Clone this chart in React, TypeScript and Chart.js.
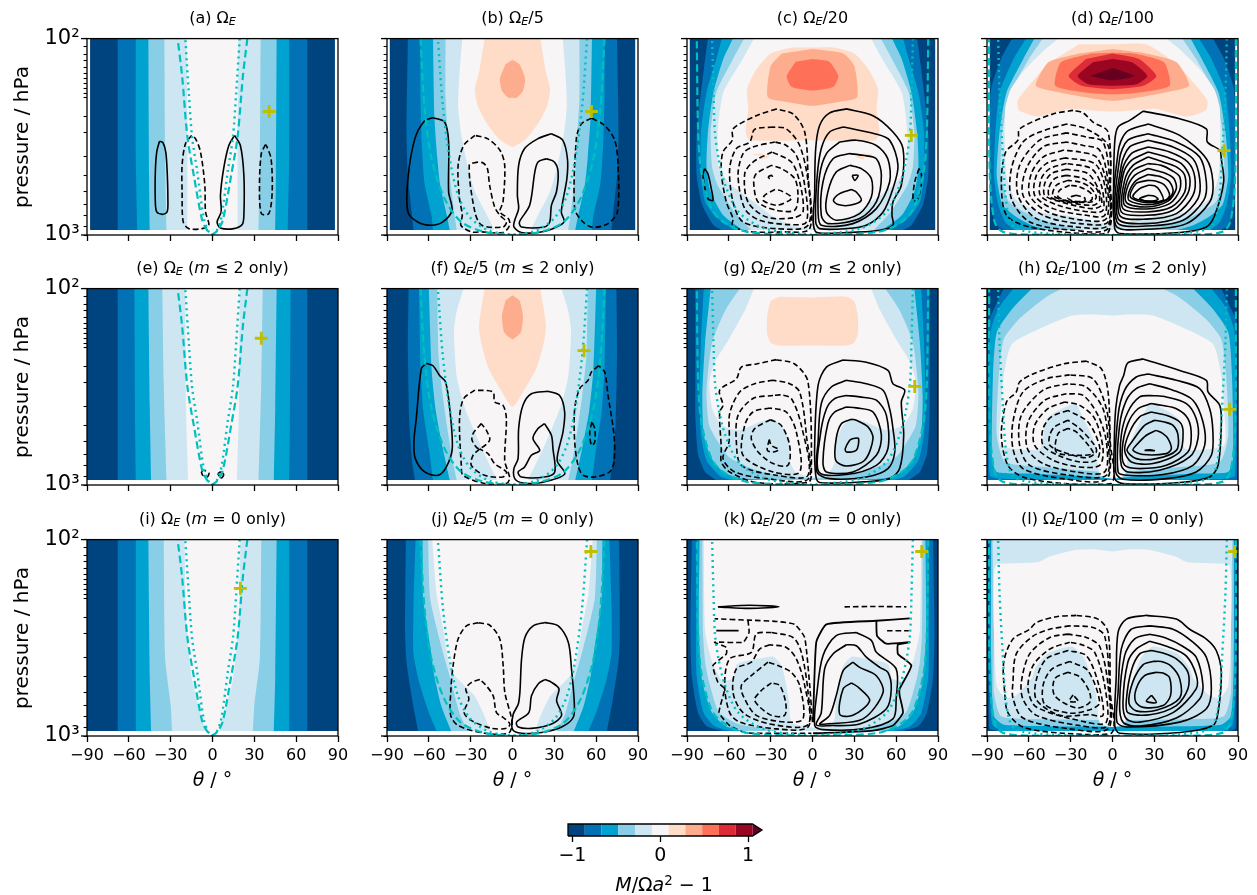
import React, { useEffect, useRef } from "react";
import { Chart, registerables } from "chart.js";
Chart.register(...registerables);

const bandColors = ["#00447f","#0072b5","#00a2d0","#88cee6","#cde6f1","#f7f5f6","#fedcc8","#fdac8d","#fe7058","#dd2c37","#9a0522","#67001f"];
const colorbarEdges = [-1.05,-0.859,-0.668,-0.477,-0.286,-0.095,0.095,0.286,0.477,0.668,0.859,1.05];
const colorbarTicks = [-1,0,1];
const thetaTicks = [-90,-60,-30,0,30,60,90];

// Critical latitude curves [theta, p] for theta >= 0, top to bottom
const om1Dash = [25,100,21.8,155,18,316,13.4,497,7.4,841,3.8,946,0,995];
const om1Dot = [19.5,100,17,188,14.6,320,11,470,6.2,825,2.6,964,0,995];
const om5Dash = [66,100,63,228,58,409,48.7,653,36.7,858,20,964,0,1000];
const om5Dot = [53.5,100,50,219,45,409,39,628,30.7,810,17.6,946,0,1000];
const om20Dash = [83,100,82,299,79.7,478,72.5,734,64,858,47,964,0,1000];
const om20Dot = [72,100,71,188,70,299,67.3,409,62.5,558,53,763,34,928,0,1000];
const om100Dash = [88.5,100,88,497,84.5,858,78.5,964,60,995,0,1000];
const om100Dot = [82,100,81,188,78.5,409,77,604,74,825,69,928,47,982,0,1000];

// Filled bands: half boundary (theta >= 0), mirrored about the equator
const aBands = [[68,100,68,944],[55,100,55,400,54,944],[46,100,45.5,500,45,944],[34.5,100,34,400,33,944],[18.5,100,18,400,18,944]];
const bBands = [[75,100,76,300,75,500,72,800,71,944],[66,100,66,200,65,350,63,550,58,800,57,944],[57,100,56,250,54,400,52,550,47,800,45,944],[48,100,48,200,46,350,45,500,42,750,40,944],[36,100,38,150,39,220,37,300,33,420,27,600,18,800,13,944],[20,100,24,149,27,181,25,219,19,266,10,323,0,356],[0,128,5,135,9,160,7.5,185,3,200,0,200]];
const cBands = [[75,100,77,127,80,188,83,300,83,500,79,706,71,892,65,944],[65,100,69,127,76,188,80,299,80,500,77,680,70,800,61,892,56,944],[57,100,64,127,71,188,75,299,76,450,73,604,64,794,50,944],[49,100,57,127,69,188,73,299,72,450,68,558,56,763,44,944],[42,100,50,127,64,188,68,299,67,459,58,558,42,680,30,790,15,892,0,925],[0,111,15,111,30,119,40,143,47,181,46,228,48,299,45,329,0,329],[0,113,22,119,30,138,32,199,17,211,0,220],[0,127,12,131,18.5,155,15,176,0,184]];
const cIsland = [37,395,43,390,37,385,31,400,37,412];
const dBands = [[72,100,80,127,87,180,88,300,88,500,87,700,84,880,78,944],[62,100,71,127,81,188,84,299,85,500,82,700,77,858,70,944],[56,100,64,127,76,188,81,299,83,500,79,700,70,800,58,892,46,944],[50,100,60,127,73,188,79,299,80,500,74,680,58,800,38,892,20,944],[38.6,100,48,113,62.5,143,73,181,77,228,77,409,75.7,516,70,653,53,763,34,794,12,858,0,892],[0,107,24,107,46,135,58,167,68,207,67,232,53,249,31,228,15,232,0,235],[0,113,24,119,46,132,55,174,38,188,0,207],[0,118,15,119,37,132,41,174,20,188,0,192],[0,119,19,127,31.5,155,22,174,0,181],[0,127,14,132,25,155,17,171,0,174],[0,141,16,155,0,163]];
const eBands = [[68,100,68,944],[56,100,55.5,500,55,944],[46,100,45,400,44,944],[36,100,35,300,33,944],[19.5,100,19,400,17.5,944]];
const fBands = [[74.5,100,75,207,74,478,72,750,70,944],[67,100,66,250,64,420,60,650,57,944],[60,100,58,260,55,420,50,650,45,944],[54,100,53,220,50,350,47,500,43,750,40,944],[35,100,40,130,42,165,40,280,35,390,29,500,20,700,11,944],[20,100,24,155,22,195,17,256,9,323,0,401],[0,108,5,115,7.5,138,6,167,0,181]];
const gBands = [[84,100,84,300,84,450,82,700,77,858,69,944],[78,100,80,188,81,350,80,550,76,750,66,905,58,944],[73,100,77,188,79,350,78,550,73,720,64,858,53,920,30,944],[52,100,62,127,72,188,76,336,74,500,66,630,60,720,48,800,30,880,0,925],[42,100,48,127,60,181,70,237,74,299,72,409,65,497,53,527,38,478,29,463,22,497,17,604,16,763,12,858,0,910],[0,111,24,110,30,116,32.5,138,32.5,170,30,188,24,195,0,195]];
const hBands = [[78,100,85,127,90,155,90,944],[71,100,82,127,87.5,167,88,892,80,930,40,944],[57.7,100,72,127,83,167,85.7,277,86.4,734,83,858,60,875,12,910,0,928],[36,100,48,111,67,143,78,181,81.5,277,83,558,77,763,48,810,8,858,0,858],[0,137,16,135,29,137,48,155,72,191,78,277,80,409,80,628,52,653,47,459,27,385,22,442,12,628,9,892,0,928]];
const iBands = [[68,100,68,944],[55,100,55,944],[46,100,45,500,44,944],[35,100,34,400,30,700,29,944],[20,100,19,250,15,500,9,750,5,944]];
const jBands = [[76.5,100,77,300,76,420,72,650,67.7,944],[69.5,100,71,220,71,380,67,530,60,760,54.5,944],[64.5,100,64,200,59,350,56,497,51,706,44,944],[60.5,100,59,200,51,350,45,497,38,763,32,944],[57.6,100,54.5,188,50,277,46,409,41,497,34,558,27,628,21,763,16,944]];
const kBands = [[86.5,100,87.5,300,86.5,500,82,763,76,890,65,944],[83,100,83.5,300,83,500,78,763,70,892,58,944],[81,100,81.5,300,79,530,72,763,62,892,50,944],[79,100,78.5,300,77,420,74,537,67,760,53,870,24,944],[78,100,77,290,72,420,65,520,57,510,54,430,35,400,28,395,22,440,17,650,15,850,0,905]];
const lBands = [[88.5,100,88.5,800,88,920,82,944],[87.5,100,87.5,700,86,880,80,944],[87,100,87,400,85,790,77,880,0,895],[86,100,85,290,85,600,80,790,60,820,0,830],[0,115,13,112,27,113,45,122,53,130,70,132,84,136,85,290,83,558,77,640,69,620,58,510,55,445,46,378,29,350,20,405,12,600,9,860,0,900]];

// Streamfunction contours [theta, p, ...]
const aSolid = [[-38,333,-40,378,-41,478,-41,678,-40,762,-36,785,-32.5,762,-32,653,-32.5,478,-33.5,378,-35.5,339],[15.8,311,11.7,350,8,459,5.7,628,6.2,763,3.3,858,5.7,921,15.3,928,21.3,885,22.5,794,22.5,497,20,350]];
const aDashed = [[-15,311,-19.4,343,-21.8,442,-21.8,604,-21,858,-17,928,-7.4,928,-2.6,892,-5,763,-5.5,558,-8.6,378,-12.2,323],[38,346,35,385,33.7,558,35,778,40.4,778,42.8,604,42,409,39,355]];
const bSolid = [[-57,253,-63,262,-70,323,-75,516,-75,763,-68,858,-58,892,-50,858,-43.4,748,-45.8,604,-45.8,336,-48.7,266],[27.9,305,18.3,323,8.7,363,4.4,442,3.5,628,4.4,734,1.6,841,1,910,6.3,971,18.3,971,27.9,935,37,858,35,763,39,516,39.4,409,36,329],[24.3,409,18.3,425,16,478,12.3,706,5,858,6.3,910,23,910,26.7,858,27.9,706,31.5,604,32.7,478,30,425]];
const bDashed = [[-27,311,-35,350,-39,442,-38,653,-36,794,-37,892,-29.5,964,-22,964,-6.8,971,-2,892,-3,825,-9,763,-6.8,679,-5.6,442,-9,370,-18,323],[-25,425,-31,442,-27,763,-22,892,-6.8,910,-4.4,858,-9,794,-12.8,720,-16.4,558,-18,459,-21,430],[56.6,254,49.4,272,45.8,323,44.6,734,50.6,858,57.8,914,68.5,875,75.2,763,75.7,442,73.3,329,66.1,277]];
const cSolid = [[24.3,228,12.3,239,5.1,277,2.3,363,1.6,604,2.3,964,24.3,971,48.2,946,57.7,892,57,794,57.7,679,63.7,558,64.9,363,57.7,299,43.4,247],[22,282,12.3,299,6.3,363,3.2,516,2.3,858,5.1,928,24.3,928,38.6,892,50.6,763,57.7,580,61.3,442,55.3,329,44.6,305],[19.5,336,10,385,5.1,497,4,763,6.3,892,29,875,45.8,734,55.3,537,54,409,45.8,350,31.4,329],[26.7,385,14.7,409,7.5,537,6.3,794,11,875,33.8,825,45.8,679,49.4,497,45.8,409,36.2,393],[26.7,442,17,478,11,604,10,763,17,841,33.8,778,42.2,640,42.2,516,35,459],[28.4,497,32.7,497,30.3,527],[27.9,587,19.5,616,15,666,18.3,700,26.7,706,35,666,31.4,604],[-77.4,459,-78.6,497,-75,653,-71.4,666,-72.6,580,-75,487]];
const cDashed = [[-26,228,-40.3,247,-57,288,-57.5,329,-64.2,378,-65.4,478,-61.8,679,-57,825,-57.5,892,-47.5,957,-21,964,-2,928,-3.2,497,-5.6,299,-14,242],[-28.3,282,-41.5,290,-45,336,-54.6,363,-59.4,459,-57,679,-49.8,858,-26,928,-3.2,892,-3.2,537,-9.2,350,-18.8,288],[-27,336,-42.7,356,-49.8,385,-53.4,497,-48.6,734,-37.9,841,-16.4,885,-4.4,858,-5.6,558,-11.6,393,-18.8,350],[-29,378,-42.7,425,-48.6,487,-46.3,679,-33,810,-14,818,-6.8,763,-9.2,537,-15.2,425],[-29.5,442,-40.3,487,-42.2,537,-39,679,-26,748,-12.8,748,-10.4,628,-12.8,516,-22.4,459],[-31.9,506,-29.5,497,-28.8,506,-30.7,516],[-27,587,-34.3,628,-35.5,666,-26,706,-16.4,666,-15.2,640,-22.4,596],[76.4,459,73.3,537,72.1,666,75,666,78,558,78,487]];
const dSolid = [[22,234,12.3,261,4,282,1.6,336,0.8,604,1.6,928,5.1,982,48.2,971,67.3,910,73.3,794,79.7,537,78,409,76.9,370,68,336,67.3,288,48.2,256],[25.5,272,10,299,4,378,2.3,892,24.3,935,53,875,69.7,679,72,537,67.3,409,48.2,311],[25.5,305,11,329,5.1,409,3.2,858,24.3,900,50.6,841,65.4,666,67.3,537,62.5,401,45.8,336],[25.5,329,12.3,356,6.3,442,4,825,24.3,875,48.2,810,61.3,653,62.5,516,57.7,409,43.4,356],[25.5,356,13.5,385,7,468,5.1,794,24.3,830,45.8,778,57.7,628,59,506,54,425,41,378],[25.5,378,13.5,417,7.5,497,6.3,763,24.3,794,43.4,748,54,616,55.3,506,49.4,433,38.6,401],[25.5,401,14.7,442,8.7,527,7.5,734,24.3,763,42.2,720,51.8,604,51.8,497,45.8,450,36.2,425],[25.5,433,15,468,9.5,558,8.7,706,24.3,737,41,692,48.2,592,48.2,506,42.2,468,35,442],[25.5,459,15.9,497,10.4,580,10,684,24.3,720,39.8,672,45.8,580,44,516,38.6,487],[25.5,492,17,527,11.8,604,11.8,666,24.3,702,38.6,666,43.4,604,41,537,35,506],[25.5,527,17,547,12.8,640,24.3,684,37.4,666,41,628,37.4,558,31.4,532],[25.5,558,19.5,580,14.7,640,24.3,672,36.2,666,33.8,592,30.2,562],[25.5,628,19.5,653,24.3,672,32.6,660,30.2,635]];
const dDashed = [[-28.3,232,-42.7,242,-66.6,288,-67.8,329,-76.6,378,-79.7,537,-76,794,-59.4,910,-23.5,982,-3.2,971,-1.6,604,-3.2,299,-14,266,-21,239],[-33,272,-52.2,299,-64.2,336,-72.5,459,-72.5,653,-59.4,858,-28.3,946,-3.2,928,-1.6,558,-3.2,350,-18.8,288],[-33,302,-52.2,329,-66.6,442,-67.8,628,-54.6,825,-26,910,-3.2,892,-2,537,-6.8,336,-18.8,317],[-33,336,-49.8,356,-61.8,459,-64.2,628,-49.8,794,-23.5,875,-3.2,858,-3.2,537,-9.2,370,-21,350],[-35.5,370,-49.8,401,-58.2,487,-59.4,628,-46.3,763,-21,841,-4.4,825,-4.4,537,-11.6,401,-23.5,378],[-34.3,405,-47.5,433,-54.6,497,-55.8,628,-42.7,734,-18.8,794,-5.6,794,-5.6,558,-12.8,433],[-33,433,-45,459,-51,516,-51.8,628,-39,706,-16.4,763,-6.8,748,-8,558,-15.2,459],[-33,463,-43.9,487,-48.6,547,-48.6,628,-36.7,679,-15.2,734,-8,706,-9.2,604,-17.6,487],[-33,497,-41.5,516,-45.8,580,-45,640,-33,679,-14,706,-9.2,666,-11.6,580,-21,516],[-32,527,-40.3,558,-42.7,628,-32,672,-15.2,679,-11.6,640,-16.4,569,-23.5,537],[-30.7,558,-37.9,592,-39,640,-28.3,679,-15.2,666,-15.2,616,-23.5,569],[-26,628,-32,648,-28.3,672,-20,672,-20,648]];
const eSolid = [[3.8,878,5.7,858,8,885,6.2,921]];
const eDashed = [[-8,858,-6.5,841,-2.6,868,-3.8,910,-7,892]];
const fSolid = [[-61.8,240,-65.4,256,-69,459,-70.7,604,-69.7,734,-63,858,-53.5,892,-47.5,810,-43.2,653,-45,409,-48,299,-52.3,277,-57,247],[25.5,333,13.5,343,7.5,393,4.4,516,4,734,1,825,1.6,928,7.5,978,20.7,971,37.4,880,32,748,36.2,537,37.4,425,33.8,350],[23,487,18.3,516,14.7,580,19.5,666,13.5,706,8.7,810,4,858,6.3,910,23,910,30.3,858,29,653,27.9,558]];
const fDashed = [[-27,329,-35,363,-38,459,-36.7,794,-35.5,892,-20,982,-4.4,982,-2,928,-3.2,858,-5.6,748,-4.4,459,-6.8,393,-12.8,378,-14,336],[-22.4,487,-28.3,547,-29,592,-24.3,653,-16.4,592,-18.7,527],[-23.5,656,-28.3,706,-29.5,794,-20,892,-6.8,910,-4.4,858,-12.8,778,-17.6,692],[61.8,247,56.6,266,54.2,293,48.2,323,44.6,409,44.6,604,47,794,50.6,892,59,910,69.7,858,72.8,763,72.8,558,68.5,350,66.1,266],[57,478,55.4,537,56.6,628,59,604,59,516]];
const gSolid = [[22,231,10,251,4,311,1.6,604,2.3,892,5.1,971,36.2,964,55.3,928,62.5,825,65.4,558,63.7,378,66.1,329,57.7,305,54.1,261,38.6,237],[24.3,293,13.5,317,6.3,385,4,604,3.2,858,12.3,928,38.6,910,54.1,825,59,679,57.7,516,55.3,409,50.6,329,38.6,305],[24.3,350,15.9,363,10,409,5.6,558,4.6,858,24.3,885,45.8,794,54.1,653,53,442,45.8,370,33.8,356],[24.3,401,15.9,425,11,487,7.5,763,10,858,29,858,45.8,706,49.4,558,43.4,425,31.4,405],[27.9,463,20.7,487,17,580,16.6,748,24.3,800,37.4,748,43.4,580,39.8,506,31.4,468],[29,580,26.7,592,23.5,653,24.3,679,31.4,666,33,580]];
const gDashed = [[-26,230,-40.3,242,-51,251,-54.6,288,-66.6,329,-64.2,393,-66.6,425,-65.4,653,-65.4,763,-59.4,858,-40.3,971,-3.2,971,-0.8,892,-3.2,299,-12.8,242],[-28.3,293,-41.5,305,-52.2,336,-59.4,433,-59.9,604,-64.2,734,-55.8,858,-33,928,-3.2,935,-4.4,558,-9.2,336,-16.4,305],[-28.3,350,-42.7,363,-53.4,442,-54.6,604,-51,794,-26,892,-3.2,892,-8,497,-15.2,363,-22.4,348],[-30.7,405,-42.7,425,-48.6,497,-49.8,706,-28.3,858,-9.2,858,-11.6,537,-18.8,425],[-30.2,465,-41.5,516,-43.9,580,-39,679,-28.3,778,-17.6,794,-16.4,628,-22.4,497],[-31,587,-32.4,666,-28.3,679,-24.1,660,-29.5,628]];
const hSolid = [[22,228,11,239,8,277,5.1,311,2.3,409,1.3,604,1.6,928,7.5,982,48.2,971,69.7,910,75.7,794,78,497,76.9,393,68.5,336,67.3,293,48.2,261],[25.5,272,17,282,8.7,329,4,442,2.3,858,7.5,935,38.6,928,60,858,70.9,706,72,537,69.7,409,62.5,323,45.8,293],[26.7,305,17,323,10,370,5.1,497,4,858,10,892,36.2,885,57.7,794,66.1,628,64.9,478,57.7,370,43.4,329],[27.9,350,19.5,356,11,425,6.3,558,6.3,794,11,858,33.8,841,55.3,720,61.3,580,60,459,53,385,38.6,356],[27.9,385,18.3,409,11,487,7,653,8.7,794,19.5,825,38.6,794,54.1,679,56.5,558,54.1,459,45.8,409,35,393],[27.9,425,19.5,450,12.3,537,8.7,666,13.5,763,29,778,48.2,679,50.6,537,48.2,478,38.6,442],[30.2,468,23,497,14.7,592,10.4,666,17,734,31.4,734,45.8,666,47,558,43.4,497,37.4,478],[31.4,527,24.3,558,17,628,14.7,666,22,700,38.6,692,42.2,653,39.8,580,36.2,547],[23,666,30,668,27,662]];
const hDashed = [[-18.8,234,-35.5,242,-57,272,-66.6,299,-69,336,-76,378,-79.7,558,-75,794,-64.2,910,-35.5,982,-0.8,982,-1.6,604,-3.2,336,-8,256],[-30.7,275,-47.5,288,-64.2,336,-71.4,478,-71.4,653,-64.2,825,-35.5,928,-4.4,935,-2,604,-4.4,409,-14,288],[-32,305,-49.8,329,-65.4,442,-66.6,628,-59.4,794,-30.7,892,-4.4,892,-3.2,604,-6.8,409,-18.8,317],[-33,343,-48.6,370,-60.6,478,-61,653,-49.8,778,-26,858,-5.6,858,-4.4,604,-10.4,442,-21,350],[-34.3,378,-46.3,409,-55.8,497,-55.8,628,-42.7,748,-23.5,810,-9.2,794,-6.8,653,-12.8,459,-23.5,393],[-32,417,-43.9,450,-49.8,516,-49.8,628,-39,706,-23.5,763,-11.6,748,-9.2,640,-17.6,478],[-32,468,-41.5,506,-45,558,-45,628,-35.5,679,-18.8,727,-11.6,679,-12.8,628,-23.5,516],[-32,516,-39,547,-40.3,679,-26,706,-14,692,-16.4,640,-26,537]];
const jSolid = [[23.2,264,14.8,275,8.9,315,6.5,405,5.3,600,4.1,690,0.5,775,0,925,6.5,968,20.8,960,35.2,900,43.5,805,44.3,675,42.3,455,40,333,32.8,275],[23.2,516,18.4,543,13.6,623,11.7,760,2.9,850,4.1,900,13.6,914,28,868,35.2,785,31.6,660,33.3,575,28,533]];
const jDashed = [[-24.6,265,-33,275,-39,321,-42.6,438,-44.3,600,-44.3,785,-39,885,-19.9,968,-3.1,968,-0.3,885,-1.2,785,-5.5,600,-6.7,438,-9.1,321,-16.3,273],[-23.4,516,-29.4,533,-33.5,575,-31.3,648,-34.7,760,-29.4,835,-15,914,-4.3,914,-1.9,868,-6.7,805,-11.5,760,-13.9,623,-19.9,543]];
const kSolid = [[31.4,297,17,308,7.5,390,3.2,600,1.6,885,7.5,928,36.2,920,57.7,818,60,648,60,455,45.8,375,42.2,326],[24.3,343,14.7,382,8.7,455,6.3,760,2.7,878,12.3,885,33.8,868,53,727,56.5,575,54.1,474,48.2,447,38.6,397,31.4,347],[29,421,22,465,17,623,12.3,785,5.1,868,10,868,36.2,818,50.6,600,45.8,493,33.8,447],[27.9,537,22,575,19.5,775,29,785,41,660,32.6,563],[-67.8,220,-45,216,-24,220,-45,224]];
const kSolidOpen = [[0.4,850,2.7,333,10,270,45.8,259,69.7,252],[45.8,259,46.3,309,53,339,69.7,333,61.3,343,61.3,382,70.9,438,62.5,575,62.5,623,64.9,760,57.7,885,43.4,938,5.1,968,0.4,968],[-69,291,-53,291]];
const kDashed = [[-29.5,297,-40.3,302,-43.9,375,-59.4,405,-63,553,-59.4,760,-52.2,850,-26,920,-3.2,900,-3.2,600,-8,375,-14,315],[-30.7,343,-37.9,361,-43.9,421,-54.6,455,-57,600,-49.8,760,-30.7,868,-3.2,875,-5.6,553,-11.6,405,-18.8,354],[-32,421,-43.9,493,-51,553,-49.8,623,-40.3,785,-18.8,850,-6.8,818,-9.2,553,-15.2,474,-24.7,438],[-29.5,537,-36.7,587,-41.5,660,-29.5,785,-20,785,-19.2,679,-23.5,553]];
const kDashedOpen = [[0,850,-2,553,-5.6,315,-12.8,270,-26,261,-46.3,257,-70.2,253],[-46.3,257,-45.5,297,-49.8,333,-70.2,333,-61.8,354,-61.8,382,-71.4,438,-67.8,533,-63,575,-67,760,-59.4,885,-47.5,964,-0.8,968],[53.5,291,69,291],[23,220,45,219,67.3,220]];
const lSolid = [[24.3,243,10,254,4,296,2.7,493,1.6,885,5.1,968,48.2,960,72,885,75.7,760,78,474,74.4,367,67.3,321,55.3,286,45.8,254],[26.7,275,13.5,286,6.3,361,4,600,3.2,850,10,900,48.2,850,67.3,727,70.9,575,67.3,397,57.7,333,43.4,286],[26.7,303,15.9,320,8.7,390,5.1,675,7.5,850,19.5,890,45.8,810,62.5,648,64.9,553,60,397,50.6,350,38.6,318],[26.7,329,17,361,11,421,7.5,675,10,818,19.5,850,43.4,760,60,575,60,488,53,392,41,354],[27.9,367,19.5,382,13.5,465,10,650,11,760,26.7,780,45.8,700,54.1,575,54.1,474,45.8,405,36.2,378],[29,417,22,433,14.7,527,11.8,680,17,745,31.4,740,48.2,640,48.2,512,42.2,442,35,418],[31.4,474,23,493,17,575,16.6,670,22,715,36.2,700,41.6,623,41,506,36.2,478],[28,620,24.3,665,31.4,675]];
const lDashed = [[-26,243,-40.3,247,-54.6,264,-59.4,286,-71.4,321,-78,421,-77.3,600,-75,760,-64.2,900,-35.5,968,-0.8,968,-1.6,600,-3.2,296,-10.4,254],[-30.7,275,-45,286,-57,310,-69,382,-71.4,533,-71.4,640,-64.2,810,-30.7,920,-3.2,920,-2,600,-5.6,310,-14,280],[-32,303,-45,315,-59.4,382,-65.4,533,-64.2,650,-54.6,785,-23.5,885,-3.2,885,-3.2,553,-9.2,350,-18.8,315],[-30.7,333,-45,361,-57,438,-60.6,575,-54.6,712,-18.8,850,-4.4,850,-5.6,553,-12.8,375,-21,345],[-32,367,-47.5,405,-54.6,516,-54.6,653,-37.9,785,-16.4,778,-6.8,785,-10.4,533,-18.8,390],[-30.7,417,-43.9,459,-49.8,553,-48.6,690,-30.7,765,-15.2,730,-9.2,675,-17.6,465],[-32,474,-41.5,512,-41.5,623,-26,720,-16.4,675,-16.4,600,-23.5,500],[-28.3,618,-31,665,-24.7,665]];

const plusThetas = [40.6,56.6,70.9,80,35,51.3,73.3,84,20,56.2,78.3,87.6];
const plusPressures = [235,235,311,372,179,207,315,412,177,115,115,115];
const fieldEdges = [87.8,88,88,88,90,90,90,90,90,90,90,90];
const titleBases = ["","/5","/20","/100"];
const panelLetters = "abcdefghijkl".split("");
const rowSuffix = ["",  " (m ≤ 2 only)", " (m = 0 only)"];
const colLefts = [87,387,687,987];
const rowTops = [38,288,539];
const AX_W = 251, AX_H = 197, PAD_L = 62, PAD_T = 8, CANVAS_T = 16, PAD_R = 20, PAD_B = 35;

const bandsByPanel = [aBands,bBands,cBands,dBands,eBands,fBands,gBands,hBands,iBands,jBands,kBands,lBands];
const solidByPanel = [aSolid,bSolid,cSolid,dSolid,eSolid,fSolid,gSolid,hSolid,[],jSolid,kSolid,lSolid];
const dashedByPanel = [aDashed,bDashed,cDashed,dDashed,eDashed,fDashed,gDashed,hDashed,[],jDashed,kDashed,lDashed];
const curvesByCol = [[om1Dash,om1Dot],[om5Dash,om5Dot],[om20Dash,om20Dot],[om100Dash,om100Dot]];

const toPts = (a: number[]) => { const o: any[] = []; for (let i = 0; i < a.length; i += 2) o.push({ x: a[i], y: a[i + 1] }); return o; };
const ring = (a: number[]) => { const p = toPts(a); p.push({ ...p[0] }); return p; };
const mirror = (a: number[]) => { const p = toPts(a); return [...p, ...p.slice().reverse().map((q) => ({ x: -q.x, y: q.y }))]; };
// A closed band outline: corners on the field edge stay sharp, tips on the equator stay smooth.
const mirrorBand = (a: number[]) => {
  const p = toPts(a);
  const first = p[0], last = p[p.length - 1];
  const right = [...(first.x !== 0 ? [first] : []), ...p, ...(last.x !== 0 ? [last] : [])];
  const left = right.slice().reverse().map((q) => ({ x: -q.x, y: q.y }));
  if (last.x === 0) left.shift();
  if (first.x === 0) left.pop();
  return [...right, ...left];
};

const BLACK = "#000000", CY = "#00bfbf", YEL = "#bfbf00";
const fillSet = (data: any[], color: string, tension = 0.2) => ({ data, showLine: true, fill: "shape", backgroundColor: color, borderWidth: 0, pointRadius: 0, tension });
const lineSet = (data: any[], color: string, width: number, dash: number[], tension = 0.3) => ({ data, showLine: true, fill: false, borderColor: color, borderWidth: width, borderDash: dash, pointRadius: 0, tension });

const frame = {
  id: "frame",
  afterDraw(chart: any) {
    const { ctx, chartArea: a, scales } = chart;
    ctx.save(); ctx.strokeStyle = BLACK; ctx.lineWidth = 1.3;
    ctx.strokeRect(a.left, a.top, a.right - a.left, a.bottom - a.top);
    for (const v of [100, 1000]) {
      const y = scales.y.getPixelForValue(v);
      ctx.beginPath(); ctx.moveTo(a.left - 6, y); ctx.lineTo(a.left, y); ctx.stroke();
    }
    ctx.restore();
  },
};

function makePanel(cv: HTMLCanvasElement, i: number) {
  const row = Math.floor(i / 4), col = i % 4, edge = fieldEdges[i];
  const sets: any[] = [];
  sets.push(fillSet(ring([-edge,100,edge,100,edge,944,-edge,944]), bandColors[0], 0));
  bandsByPanel[i].forEach((b, k) => {
    const s = mirrorBand(b).map((q) => ({ x: Math.max(-edge, Math.min(edge, q.x)), y: q.y }));
    sets.push(fillSet(s, bandColors[k + 1]));
  });
  if (i === 2) {
    sets.push(fillSet(ring(cIsland), bandColors[6]));
    sets.push(fillSet(ring(cIsland.map((v, j) => (j % 2 ? v : -v))), bandColors[6]));
  }
  solidByPanel[i].forEach((c) => sets.push(lineSet(ring(c), BLACK, 1.6, [])));
  dashedByPanel[i].forEach((c) => sets.push(lineSet(ring(c), BLACK, 1.6, [5.5, 3])));
  if (i === 10) {
    kSolidOpen.forEach((c) => sets.push(lineSet(toPts(c), BLACK, 1.8, [], 0.15)));
    kDashedOpen.forEach((c) => sets.push(lineSet(toPts(c), BLACK, 1.6, [5.5, 3], 0.15)));
  }
  const [dash, dot] = curvesByCol[col];
  sets.push(lineSet(mirror(dash), CY, 2.2, [7.5, 4]));
  sets.push(lineSet(mirror(dot), CY, 2.4, [2, 4]));
  sets.push({ data: [{ x: plusThetas[i], y: plusPressures[i] }], showLine: false, pointStyle: "cross", pointRadius: 6.5, pointBorderColor: YEL, pointBackgroundColor: YEL, pointBorderWidth: 2.8, borderWidth: 2.8 });
  sets.forEach((s, k) => { s.order = sets.length - k; });
  return new Chart(cv, {
    type: "scatter",
    data: { datasets: sets },
    plugins: [frame],
    options: {
      responsive: false, animation: false, devicePixelRatio: 1,
      layout: { autoPadding: false, padding: { top: PAD_T, right: PAD_R, left: 0, bottom: 0 } },
      plugins: { legend: { display: false }, tooltip: { enabled: false } },
      events: [],
      scales: {
        x: {
          type: "linear", min: -90, max: 90,
          afterBuildTicks: (s: any) => { s.ticks = thetaTicks.map((value) => ({ value })); },
          afterFit: (s: any) => { s.height = PAD_B; },
          border: { display: false },
          grid: { drawOnChartArea: false, tickLength: 6, tickWidth: 1.3, tickColor: BLACK },
          ticks: { autoSkip: false, maxRotation: 0, padding: 4, color: BLACK, font: { family: "DejaVu Sans", size: 16 },
            callback: (v: any) => (row === 2 ? (v < 0 ? "−" + Math.abs(v) : String(v)) : "") },
        },
        y: {
          type: "logarithmic", min: 100, max: 1000, reverse: true,
          afterFit: (s: any) => { s.width = PAD_L; },
          border: { display: false },
          grid: { drawOnChartArea: false, tickLength: 3.4, tickWidth: 1.1, tickColor: BLACK },
          ticks: { autoSkip: false, padding: 4, color: BLACK, font: { family: "DejaVu Sans", size: 21 },
            callback: (v: any) => (col !== 0 ? "" : v === 100 ? "10²" : v === 1000 ? "10³" : "") },
        },
      },
    } as any,
  });
}

function makeBar(cv: HTMLCanvasElement) {
  const sets: any[] = [];
  for (let k = 0; k < 11; k++) {
    const a = colorbarEdges[k], b = colorbarEdges[k + 1];
    sets.push(fillSet(ring([a,0,b,0,b,1,a,1]), bandColors[k], 0));
  }
  sets.push(fillSet(ring([1.05,0,1.158,0.5,1.05,1]), bandColors[11], 0));
  sets.push({ ...lineSet(ring([-1.05,0,1.05,0,1.158,0.5,1.05,1,-1.05,1]), BLACK, 1.3, [], 0), clip: false });
  sets.forEach((s, k) => { s.order = sets.length - k; });
  return new Chart(cv, {
    type: "scatter",
    data: { datasets: sets },
    options: {
      responsive: false, animation: false, devicePixelRatio: 1, events: [],
      layout: { autoPadding: false, padding: { top: 8, left: 28, right: 28, bottom: 0 } },
      plugins: { legend: { display: false }, tooltip: { enabled: false } },
      scales: {
        x: { type: "linear", min: -1.05, max: 1.158,
          afterBuildTicks: (s: any) => { s.ticks = colorbarTicks.map((value) => ({ value })); },
          afterFit: (s: any) => { s.height = 40; },
          border: { display: false },
          grid: { drawOnChartArea: false, tickLength: 6, tickWidth: 1.3, tickColor: BLACK },
          ticks: { autoSkip: false, maxRotation: 0, padding: 3, color: BLACK, font: { family: "DejaVu Sans", size: 19 },
            callback: (v: any) => (v < 0 ? "−" + Math.abs(v) : String(v)) } },
        y: { type: "linear", min: 0, max: 1, display: false },
      },
    } as any,
  });
}

const textBase: React.CSSProperties = { position: "absolute", fontFamily: "'DejaVu Sans'", color: "#000", whiteSpace: "nowrap", lineHeight: 1 };
const subStyle: React.CSSProperties = { fontSize: "70%", verticalAlign: "-0.22em", lineHeight: 0, fontStyle: "italic" };

function Title({ i }: { i: number }) {
  const row = Math.floor(i / 4), col = i % 4;
  const cx = colLefts[col] + AX_W / 2, cy = rowTops[row] - 20;
  const suf = rowSuffix[row];
  return (
    <div style={{ ...textBase, left: cx, top: cy, transform: "translate(-50%,-50%)", fontSize: 16 }}>
      ({panelLetters[i]}) Ω<sub style={subStyle}>E</sub>{titleBases[col]}
      {suf && <> (<i>m</i>{suf.slice(3)}</>}
    </div>
  );
}

export default function App() {
  const holder = useRef<HTMLDivElement>(null);
  useEffect(() => {
    const charts: Chart[] = [];
    holder.current!.querySelectorAll("canvas[data-p]").forEach((c) => {
      charts.push(makePanel(c as HTMLCanvasElement, Number((c as HTMLElement).dataset.p)));
    });
    charts.push(makeBar(holder.current!.querySelector("canvas[data-bar]") as HTMLCanvasElement));
    return () => charts.forEach((c) => c.destroy());
  }, []);
  return (
    <div ref={holder} style={{ position: "absolute", left: 0, top: 0, width: 1257, height: 895, overflow: "hidden", background: "#fff" }}>
      {panelLetters.map((_, i) => {
        const row = Math.floor(i / 4), col = i % 4;
        return (
          <canvas key={i} data-p={i} width={PAD_L + AX_W + PAD_R} height={CANVAS_T + AX_H + PAD_B}
            style={{ position: "absolute", left: colLefts[col] - PAD_L, top: rowTops[row] - CANVAS_T, width: PAD_L + AX_W + PAD_R, height: CANVAS_T + AX_H + PAD_B }} />
        );
      })}
      <canvas data-bar="1" width={250} height={60} style={{ position: "absolute", left: 540, top: 816, width: 250, height: 60 }} />
      {panelLetters.map((_, i) => <Title key={i} i={i} />)}
      {rowTops.map((t) => (
        <div key={t} style={{ ...textBase, left: 21, top: t + AX_H / 2, fontSize: 20, transform: "translate(-50%,-50%) rotate(-90deg)" }}>pressure / hPa</div>
      ))}
      {colLefts.map((l) => (
        <div key={l} style={{ ...textBase, left: l + AX_W / 2, top: 779, fontSize: 19, transform: "translate(-50%,-50%)" }}><i>θ</i> / °</div>
      ))}
      <div style={{ ...textBase, left: 664, top: 884, fontSize: 19, transform: "translate(-50%,-50%)" }}>
        <i>M</i>/Ω<i>a</i><sup style={{ fontSize: "70%", verticalAlign: "0.42em", lineHeight: 0 }}>2</sup> − 1
      </div>
    </div>
  );
}
